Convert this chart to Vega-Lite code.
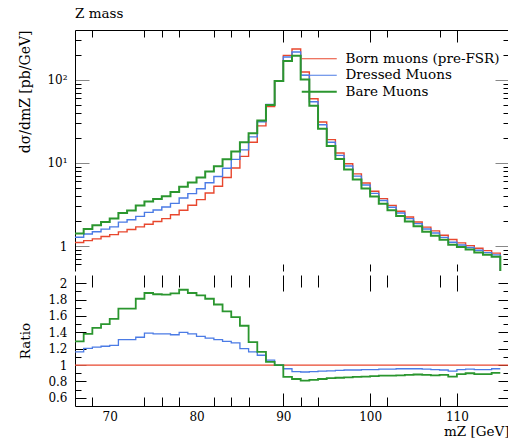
{
  "$schema": "https://vega.github.io/schema/vega-lite/v6.json",
  "padding": {"left": 18, "top": 7, "right": 1, "bottom": 0},
  "config": {
    "font": "DejaVu Serif",
    "view": {"stroke": null},
    "axis": {"grid": false, "labelFont": "DejaVu Serif", "titleFont": "DejaVu Serif", "labelFontSize": 12, "titleFontSize": 13.5, "labelColor": "black", "titleColor": "black", "domainColor": "black", "tickColor": "black", "titleFontWeight": "normal", "labelOverlap": false, "labelFlush": false, "domainWidth": 1, "tickWidth": 1}
  },
  "datasets": {
    "main": [
      {"m":66,"Born muons (pre-FSR)":1.10,"Dressed Muons":1.276,"Bare Muons":1.419},
      {"m":67,"Born muons (pre-FSR)":1.16,"Dressed Muons":1.398,"Bare Muons":1.601},
      {"m":68,"Born muons (pre-FSR)":1.22,"Dressed Muons":1.488,"Bare Muons":1.775},
      {"m":69,"Born muons (pre-FSR)":1.30,"Dressed Muons":1.599,"Bare Muons":1.95},
      {"m":70,"Born muons (pre-FSR)":1.37,"Dressed Muons":1.699,"Bare Muons":2.144},
      {"m":71,"Born muons (pre-FSR)":1.48,"Dressed Muons":1.939,"Bare Muons":2.501},
      {"m":72,"Born muons (pre-FSR)":1.58,"Dressed Muons":2.07,"Bare Muons":2.67},
      {"m":73,"Born muons (pre-FSR)":1.70,"Dressed Muons":2.278,"Bare Muons":3.077},
      {"m":74,"Born muons (pre-FSR)":1.83,"Dressed Muons":2.544,"Bare Muons":3.44},
      {"m":75,"Born muons (pre-FSR)":1.97,"Dressed Muons":2.719,"Bare Muons":3.674},
      {"m":76,"Born muons (pre-FSR)":2.14,"Dressed Muons":2.953,"Bare Muons":3.98},
      {"m":77,"Born muons (pre-FSR)":2.38,"Dressed Muons":3.261,"Bare Muons":4.463},
      {"m":78,"Born muons (pre-FSR)":2.70,"Dressed Muons":3.78,"Bare Muons":5.184},
      {"m":79,"Born muons (pre-FSR)":3.10,"Dressed Muons":4.278,"Bare Muons":5.828},
      {"m":80,"Born muons (pre-FSR)":3.62,"Dressed Muons":4.887,"Bare Muons":6.697},
      {"m":81,"Born muons (pre-FSR)":4.35,"Dressed Muons":5.786,"Bare Muons":7.874},
      {"m":82,"Born muons (pre-FSR)":5.24,"Dressed Muons":6.864,"Bare Muons":9.118},
      {"m":83,"Born muons (pre-FSR)":6.70,"Dressed Muons":8.643,"Bare Muons":11.09},
      {"m":84,"Born muons (pre-FSR)":8.70,"Dressed Muons":11.05,"Bare Muons":13.79},
      {"m":85,"Born muons (pre-FSR)":12.0,"Dressed Muons":14.4,"Bare Muons":17.76},
      {"m":86,"Born muons (pre-FSR)":17.8,"Dressed Muons":20.65,"Bare Muons":22.78},
      {"m":87,"Born muons (pre-FSR)":28.0,"Dressed Muons":31.36,"Bare Muons":32.48},
      {"m":88,"Born muons (pre-FSR)":48.0,"Dressed Muons":50.88,"Bare Muons":49.92},
      {"m":89,"Born muons (pre-FSR)":97.0,"Dressed Muons":97.0,"Bare Muons":97.0},
      {"m":90,"Born muons (pre-FSR)":198,"Dressed Muons":189.1,"Bare Muons":169.3},
      {"m":91,"Born muons (pre-FSR)":236,"Dressed Muons":217.1,"Bare Muons":195.9},
      {"m":92,"Born muons (pre-FSR)":125,"Dressed Muons":114.4,"Bare Muons":101.3},
      {"m":93,"Born muons (pre-FSR)":59.5,"Dressed Muons":54.74,"Bare Muons":48.79},
      {"m":94,"Born muons (pre-FSR)":31.2,"Dressed Muons":28.86,"Bare Muons":25.9},
      {"m":95,"Born muons (pre-FSR)":19.1,"Dressed Muons":17.76,"Bare Muons":16.04},
      {"m":96,"Born muons (pre-FSR)":13.2,"Dressed Muons":12.34,"Bare Muons":11.15},
      {"m":97,"Born muons (pre-FSR)":9.8,"Dressed Muons":9.212,"Bare Muons":8.33},
      {"m":98,"Born muons (pre-FSR)":7.4,"Dressed Muons":6.956,"Bare Muons":6.327},
      {"m":99,"Born muons (pre-FSR)":5.75,"Dressed Muons":5.434,"Bare Muons":4.945},
      {"m":100,"Born muons (pre-FSR)":4.56,"Dressed Muons":4.309,"Bare Muons":3.944},
      {"m":101,"Born muons (pre-FSR)":3.72,"Dressed Muons":3.534,"Bare Muons":3.236},
      {"m":102,"Born muons (pre-FSR)":3.09,"Dressed Muons":2.936,"Bare Muons":2.688},
      {"m":103,"Born muons (pre-FSR)":2.62,"Dressed Muons":2.502,"Bare Muons":2.293},
      {"m":104,"Born muons (pre-FSR)":2.24,"Dressed Muons":2.139,"Bare Muons":1.971},
      {"m":105,"Born muons (pre-FSR)":1.95,"Dressed Muons":1.862,"Bare Muons":1.726},
      {"m":106,"Born muons (pre-FSR)":1.69,"Dressed Muons":1.606,"Bare Muons":1.487},
      {"m":107,"Born muons (pre-FSR)":1.52,"Dressed Muons":1.436,"Bare Muons":1.33},
      {"m":108,"Born muons (pre-FSR)":1.35,"Dressed Muons":1.269,"Bare Muons":1.188},
      {"m":109,"Born muons (pre-FSR)":1.20,"Dressed Muons":1.11,"Bare Muons":1.032},
      {"m":110,"Born muons (pre-FSR)":1.09,"Dressed Muons":1.03,"Bare Muons":0.970},
      {"m":111,"Born muons (pre-FSR)":1.01,"Dressed Muons":0.96,"Bare Muons":0.909},
      {"m":112,"Born muons (pre-FSR)":0.94,"Dressed Muons":0.888,"Bare Muons":0.837},
      {"m":113,"Born muons (pre-FSR)":0.88,"Dressed Muons":0.832,"Bare Muons":0.783},
      {"m":114,"Born muons (pre-FSR)":0.82,"Dressed Muons":0.783,"Bare Muons":0.742},
      {"m":115,"Born muons (pre-FSR)":0.5,"Dressed Muons":0.5,"Bare Muons":0.5}
    ],
    "ratio": [
      {"m":66,"Born muons (pre-FSR)":1,"Dressed Muons":1.16,"Bare Muons":1.29},
      {"m":67,"Born muons (pre-FSR)":1,"Dressed Muons":1.205,"Bare Muons":1.38},
      {"m":68,"Born muons (pre-FSR)":1,"Dressed Muons":1.22,"Bare Muons":1.455},
      {"m":69,"Born muons (pre-FSR)":1,"Dressed Muons":1.23,"Bare Muons":1.50},
      {"m":70,"Born muons (pre-FSR)":1,"Dressed Muons":1.24,"Bare Muons":1.565},
      {"m":71,"Born muons (pre-FSR)":1,"Dressed Muons":1.31,"Bare Muons":1.69},
      {"m":72,"Born muons (pre-FSR)":1,"Dressed Muons":1.31,"Bare Muons":1.69},
      {"m":73,"Born muons (pre-FSR)":1,"Dressed Muons":1.34,"Bare Muons":1.81},
      {"m":74,"Born muons (pre-FSR)":1,"Dressed Muons":1.39,"Bare Muons":1.88},
      {"m":75,"Born muons (pre-FSR)":1,"Dressed Muons":1.38,"Bare Muons":1.865},
      {"m":76,"Born muons (pre-FSR)":1,"Dressed Muons":1.38,"Bare Muons":1.86},
      {"m":77,"Born muons (pre-FSR)":1,"Dressed Muons":1.37,"Bare Muons":1.875},
      {"m":78,"Born muons (pre-FSR)":1,"Dressed Muons":1.40,"Bare Muons":1.92},
      {"m":79,"Born muons (pre-FSR)":1,"Dressed Muons":1.38,"Bare Muons":1.88},
      {"m":80,"Born muons (pre-FSR)":1,"Dressed Muons":1.35,"Bare Muons":1.85},
      {"m":81,"Born muons (pre-FSR)":1,"Dressed Muons":1.33,"Bare Muons":1.81},
      {"m":82,"Born muons (pre-FSR)":1,"Dressed Muons":1.31,"Bare Muons":1.74},
      {"m":83,"Born muons (pre-FSR)":1,"Dressed Muons":1.29,"Bare Muons":1.655},
      {"m":84,"Born muons (pre-FSR)":1,"Dressed Muons":1.27,"Bare Muons":1.585},
      {"m":85,"Born muons (pre-FSR)":1,"Dressed Muons":1.20,"Bare Muons":1.48},
      {"m":86,"Born muons (pre-FSR)":1,"Dressed Muons":1.16,"Bare Muons":1.28},
      {"m":87,"Born muons (pre-FSR)":1,"Dressed Muons":1.12,"Bare Muons":1.16},
      {"m":88,"Born muons (pre-FSR)":1,"Dressed Muons":1.06,"Bare Muons":1.04},
      {"m":89,"Born muons (pre-FSR)":1,"Dressed Muons":1.00,"Bare Muons":1.00},
      {"m":90,"Born muons (pre-FSR)":1,"Dressed Muons":0.955,"Bare Muons":0.855},
      {"m":91,"Born muons (pre-FSR)":1,"Dressed Muons":0.92,"Bare Muons":0.83},
      {"m":92,"Born muons (pre-FSR)":1,"Dressed Muons":0.915,"Bare Muons":0.81},
      {"m":93,"Born muons (pre-FSR)":1,"Dressed Muons":0.92,"Bare Muons":0.82},
      {"m":94,"Born muons (pre-FSR)":1,"Dressed Muons":0.925,"Bare Muons":0.83},
      {"m":95,"Born muons (pre-FSR)":1,"Dressed Muons":0.93,"Bare Muons":0.84},
      {"m":96,"Born muons (pre-FSR)":1,"Dressed Muons":0.935,"Bare Muons":0.845},
      {"m":97,"Born muons (pre-FSR)":1,"Dressed Muons":0.94,"Bare Muons":0.85},
      {"m":98,"Born muons (pre-FSR)":1,"Dressed Muons":0.94,"Bare Muons":0.855},
      {"m":99,"Born muons (pre-FSR)":1,"Dressed Muons":0.945,"Bare Muons":0.86},
      {"m":100,"Born muons (pre-FSR)":1,"Dressed Muons":0.945,"Bare Muons":0.865},
      {"m":101,"Born muons (pre-FSR)":1,"Dressed Muons":0.95,"Bare Muons":0.87},
      {"m":102,"Born muons (pre-FSR)":1,"Dressed Muons":0.95,"Bare Muons":0.87},
      {"m":103,"Born muons (pre-FSR)":1,"Dressed Muons":0.955,"Bare Muons":0.875},
      {"m":104,"Born muons (pre-FSR)":1,"Dressed Muons":0.955,"Bare Muons":0.88},
      {"m":105,"Born muons (pre-FSR)":1,"Dressed Muons":0.955,"Bare Muons":0.885},
      {"m":106,"Born muons (pre-FSR)":1,"Dressed Muons":0.95,"Bare Muons":0.88},
      {"m":107,"Born muons (pre-FSR)":1,"Dressed Muons":0.945,"Bare Muons":0.875},
      {"m":108,"Born muons (pre-FSR)":1,"Dressed Muons":0.94,"Bare Muons":0.88},
      {"m":109,"Born muons (pre-FSR)":1,"Dressed Muons":0.925,"Bare Muons":0.86},
      {"m":110,"Born muons (pre-FSR)":1,"Dressed Muons":0.945,"Bare Muons":0.89},
      {"m":111,"Born muons (pre-FSR)":1,"Dressed Muons":0.95,"Bare Muons":0.90},
      {"m":112,"Born muons (pre-FSR)":1,"Dressed Muons":0.945,"Bare Muons":0.89},
      {"m":113,"Born muons (pre-FSR)":1,"Dressed Muons":0.945,"Bare Muons":0.89},
      {"m":114,"Born muons (pre-FSR)":1,"Dressed Muons":0.955,"Bare Muons":0.905},
      {"m":115,"Born muons (pre-FSR)":1,"Dressed Muons":0.955,"Bare Muons":0.905},
      {"m":116,"Born muons (pre-FSR)":1}
    ]
  },
  "resolve": {"legend": {"color": "independent"}},
  "spacing": 0,
  "vconcat": [
    {
      "width": 434,
      "height": 241,
      "title": {"text": "Z mass", "anchor": "start", "frame": "group", "fontSize": 13.5, "fontWeight": "normal", "font": "DejaVu Serif", "offset": 9, "color": "black"},
      "data": {"name": "main"},
      "transform": [{"fold": ["Born muons (pre-FSR)", "Dressed Muons", "Bare Muons"], "as": ["series", "v"]}],
      "layer": [
        {
          "mark": {"type": "line", "interpolate": "step-after", "clip": true},
          "encoding": {
            "x": {"field": "m", "type": "quantitative", "scale": {"domain": [66, 116], "nice": false, "zero": false},
              "axis": {"orient": "top", "values": [68,74,76,78,82,84,86,90,92,94,100,102,108,110], "labels": false, "title": null, "domain": true,
                "tickSize": {"condition": {"test": "datum.value % 10 == 0", "value": -12}, "value": -7}}},
            "y": {"field": "v", "type": "quantitative", "scale": {"type": "log", "domain": [0.5, 400], "nice": false},
              "axis": {"orient": "left", "values": [0.6,0.7,0.8,0.9,1,2,3,4,5,6,7,8,9,10,20,30,40,50,60,70,80,90,100,200,300],
                "labelExpr": "datum.value == 1 ? '1' : datum.value == 10 ? '10¹' : datum.value == 100 ? '10²' : ''",
                "tickSize": {"condition": {"test": "datum.value == 1 || datum.value == 10 || datum.value == 100", "value": -14}, "value": -6},
                "tickColor": {"condition": {"test": "datum.value == 1 || datum.value == 10 || datum.value == 100", "value": "#888888"}, "value": "black"},
                "labelPadding": 22, "title": "dσ/dmZ [pb/GeV]", "titleAnchor": "end", "titlePadding": 14, "titleFontSize": 14}},
            "color": {"field": "series", "type": "nominal",
              "scale": {"domain": ["Born muons (pre-FSR)", "Dressed Muons", "Bare Muons"], "range": ["#e8472e", "#4b7be5", "#2b962f"]},
              "legend": {"orient": "none", "legendX": 225, "legendY": 22, "title": null, "symbolType": "M-1,0H6", "symbolSize": 100, "labelOffset": 32,
                "labelFontSize": 13.5, "labelFont": "DejaVu Serif", "labelColor": "black", "rowPadding": 1.5, "padding": 0, "labelLimit": 300,
                "encode": {"symbols": {"update": {"strokeWidth": {"signal": "datum.value === 'Bare Muons' ? 2 : 1.2"}}}}}},
            "strokeWidth": {"condition": {"test": "datum.series === 'Bare Muons'", "value": 2}, "value": 1.4}
          }
        },
        {
          "mark": {"type": "point", "opacity": 0},
          "encoding": {
            "x": {"field": "m", "type": "quantitative", "scale": {"domain": [66, 116], "nice": false, "zero": false},
              "axis": {"orient": "bottom", "values": [90,100,110], "labels": false, "domain": false, "title": null, "tickSize": -7}},
            "y": {"field": "v", "type": "quantitative", "scale": {"type": "log", "domain": [0.5, 400], "nice": false},
              "axis": {"orient": "right", "values": [0.6,0.7,0.8,0.9,1,2,3,4,5,6,7,8,9,10,20,30,40,50,60,70,80,90,100,200,300], "labels": false, "title": null, "domain": true,
                "tickSize": {"condition": {"test": "datum.value == 1 || datum.value == 10 || datum.value == 100", "value": -14}, "value": -6},
                "tickColor": {"condition": {"test": "datum.value == 1 || datum.value == 10 || datum.value == 100", "value": "#888888"}, "value": "black"}}}
          }
        }
      ],
      "resolve": {"axis": {"x": "independent", "y": "independent"}}
    },
    {
      "width": 434,
      "height": 131,
      "data": {"name": "ratio"},
      "transform": [{"fold": ["Born muons (pre-FSR)", "Dressed Muons", "Bare Muons"], "as": ["series", "r"]}],
      "layer": [
        {
          "mark": {"type": "line", "interpolate": "step-after", "clip": true},
          "encoding": {
            "x": {"field": "m", "type": "quantitative", "scale": {"domain": [66, 116], "nice": false, "zero": false},
              "axis": {"orient": "bottom", "values": [68,70,74,76,78,80,82,84,86,90,92,94,100,102,108,110],
                "labelExpr": "datum.value % 10 == 0 ? datum.label : ''",
                "tickOpacity": {"condition": {"test": "datum.value == 70 || datum.value == 80", "value": 0}, "value": 1},
                "tickSize": {"condition": {"test": "datum.value % 10 == 0", "value": -13}, "value": -9},
                "labelPadding": 18, "title": "mZ [GeV]", "titleAnchor": "end", "titlePadding": -2, "domain": true}},
            "y": {"field": "r", "type": "quantitative", "scale": {"domain": [0.5, 2.1], "nice": false, "zero": false},
              "axis": {"orient": "left", "values": [0.6,0.7,0.8,0.9,1,1.1,1.2,1.3,1.4,1.5,1.6,1.7,1.8,1.9,2],
                "format": "~g",
                "labelExpr": "indexof([0.6,0.8,1,1.2,1.4,1.6,1.8,2], datum.value) >= 0 ? datum.label : ''",
                "tickSize": {"condition": {"test": "indexof([0.6,0.8,1,1.2,1.4,1.6,1.8,2], datum.value) >= 0", "value": -11}, "value": -6},
                "tickColor": {"condition": {"test": "datum.value == 1", "value": "#777777"}, "value": "black"},
                "labelPadding": 19, "title": "Ratio", "titlePadding": 15}},
            "color": {"field": "series", "type": "nominal",
              "scale": {"domain": ["Born muons (pre-FSR)", "Dressed Muons", "Bare Muons"], "range": ["#e8472e", "#4b7be5", "#2b962f"]},
              "legend": null},
            "strokeWidth": {"condition": {"test": "datum.series === 'Bare Muons'", "value": 1.8}, "value": 1.3}
          }
        },
        {
          "mark": {"type": "point", "opacity": 0},
          "encoding": {
            "x": {"field": "m", "type": "quantitative", "scale": {"domain": [66, 116], "nice": false, "zero": false},
              "axis": {"orient": "top", "values": [68,74,76,78,82,84,86,90,92,94,100,102,108,110], "labels": false, "domain": false, "title": null,
                "tickSize": {"condition": {"test": "datum.value % 10 == 0", "value": -16}, "value": -12}}},
            "y": {"field": "r", "type": "quantitative", "scale": {"domain": [0.5, 2.1], "nice": false, "zero": false},
              "axis": {"orient": "right", "values": [0.6,0.7,0.8,0.9,1,1.1,1.2,1.3,1.4,1.5,1.6,1.7,1.8,1.9,2], "labels": false, "title": null, "domain": true,
                "tickSize": {"condition": {"test": "indexof([0.6,0.8,1,1.2,1.4,1.6,1.8,2], datum.value) >= 0", "value": -11}, "value": -6}}}
          }
        }
      ],
      "resolve": {"axis": {"x": "independent", "y": "independent"}}
    }
  ]
}
